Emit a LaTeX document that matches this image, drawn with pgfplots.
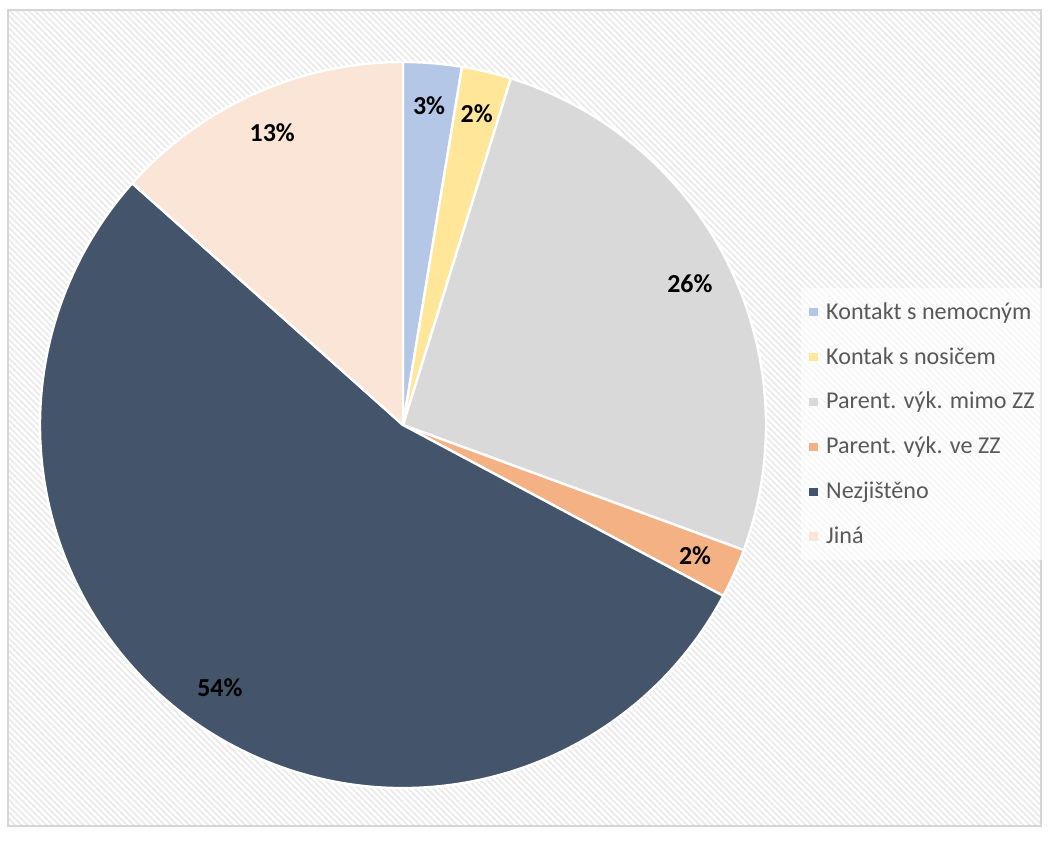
\documentclass[border=0pt]{standalone}
\usepackage{pgfplots}
\pgfplotsset{compat=1.18}
\usepackage{pgfplotstable}
\usepackage{fontspec}
\setmainfont{Carlito}
\usetikzlibrary{patterns.meta}

\definecolor{pie0}{HTML}{B4C7E7}
\definecolor{pie1}{HTML}{FFE699}
\definecolor{pie2}{HTML}{D9D9D9}
\definecolor{pie3}{HTML}{F4B183}
\definecolor{pie4}{HTML}{44546A}
\definecolor{pie5}{HTML}{FBE5D6}
\definecolor{legtext}{HTML}{595959}

\pgfplotstableread{
id value
0 2.6
1 2.2
2 25.8
3 2.2
4 53.8
5 13.4
}\piedata

\gdef\cum{0}%
\pgfplotsforeachungrouped \i in {0,...,5}{%
  \pgfplotstablegetelem{\i}{value}\of\piedata
  \let\v\pgfplotsretval
  \pgfmathsetmacro\sa{90-3.6*\cum}%
  \pgfmathsetmacro\ea{90-3.6*(\cum+\v)}%
  \pgfmathsetmacro\ma{(\sa+\ea)/2}%
  \pgfmathsetmacro\newcum{\cum+\v}%
  \expandafter\xdef\csname sa\i\endcsname{\sa}%
  \expandafter\xdef\csname ea\i\endcsname{\ea}%
  \expandafter\xdef\csname ma\i\endcsname{\ma}%
  \expandafter\xdef\csname val\i\endcsname{\v}%
  \xdef\cum{\newcum}%
}%

\begin{document}
\begin{tikzpicture}
\begin{axis}[
  x=0.5bp, y=0.5bp,
  xmin=0, xmax=1048, ymin=0, ymax=834,
  hide axis, clip=false,
  legend style={
    at={(axis cs:801,546)}, anchor=north west,
    draw=none, fill=white, fill opacity=0.6, text opacity=1,
    font=\fontsize{12.1}{14}\selectfont, text=legtext,
    row sep=8.6bp, inner xsep=4bp, inner ysep=5bp,
    /tikz/every odd column/.append style={column sep=2.2bp},
  },
  legend cell align=left,
]
\fill[white] (axis cs:0,0) rectangle (axis cs:1048,834);
\fill[pattern={Lines[angle=-45,distance=2.2bp,line width=0.9bp]}, pattern color=black!8]
  (axis cs:8,8) rectangle (axis cs:1041,824);
\draw[black!16, line width=0.8bp] (axis cs:8,8) rectangle (axis cs:1041,824);

\pgfplotsinvokeforeach{0,...,5}{%
  \filldraw[fill=pie#1, draw=white, line width=1.2bp, line join=round]
    (axis cs:403,409) -- ++(\csname sa#1\endcsname:181.5bp)
    arc[start angle=\csname sa#1\endcsname, end angle=\csname ea#1\endcsname, radius=181.5bp] -- cycle;
}
\pgfplotsinvokeforeach{0,...,5}{%
  \node[font=\fontsize{13}{15}\selectfont\bfseries, text=black]
    at ([shift={(\csname ma#1\endcsname:160bp)}]axis cs:403,409)
    {\pgfmathprintnumber[fixed,precision=0,assume math mode=true]{\csname val#1\endcsname}\%};
}

\addlegendimage{legend image code/.code={\fill[pie0, fill opacity=1, draw=none] (0bp,-2.1bp) rectangle (4.2bp,2.1bp);}}
\addlegendentry{Kontakt s nemocným}
\addlegendimage{legend image code/.code={\fill[pie1, fill opacity=1, draw=none] (0bp,-2.1bp) rectangle (4.2bp,2.1bp);}}
\addlegendentry{Kontak s nosičem}
\addlegendimage{legend image code/.code={\fill[pie2, fill opacity=1, draw=none] (0bp,-2.1bp) rectangle (4.2bp,2.1bp);}}
\addlegendentry{Parent. výk. mimo ZZ}
\addlegendimage{legend image code/.code={\fill[pie3, fill opacity=1, draw=none] (0bp,-2.1bp) rectangle (4.2bp,2.1bp);}}
\addlegendentry{Parent. výk. ve ZZ}
\addlegendimage{legend image code/.code={\fill[pie4, fill opacity=1, draw=none] (0bp,-2.1bp) rectangle (4.2bp,2.1bp);}}
\addlegendentry{Nezjištěno}
\addlegendimage{legend image code/.code={\fill[pie5, fill opacity=1, draw=none] (0bp,-2.1bp) rectangle (4.2bp,2.1bp);}}
\addlegendentry{Jiná}
\end{axis}
\end{tikzpicture}
\end{document}
